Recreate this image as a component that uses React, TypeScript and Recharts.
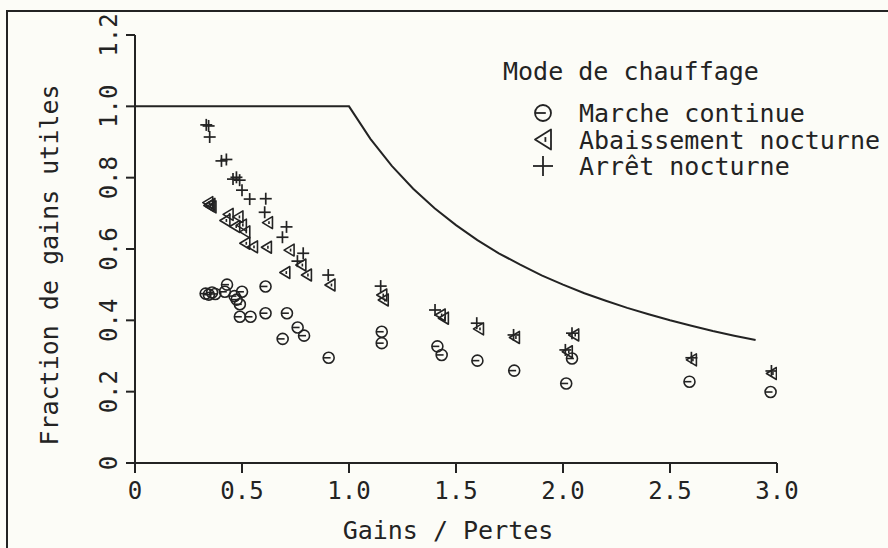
import React from 'react';
import { ScatterChart, Scatter, XAxis, YAxis, Legend, Label } from 'recharts';

const INK = '#232323';
const FONT = '"DejaVu Sans Mono", monospace';

const xTicks = [0, 0.5, 1, 1.5, 2, 2.5, 3];
const xTickLabels = ['0', '0.5', '1.0', '1.5', '2.0', '2.5', '3.0'];
const yTicks = [0, 0.2, 0.4, 0.6, 0.8, 1.0, 1.2];
const yTickLabels = ['0', '0.2', '0.4', '0.6', '0.8', '1.0', '1.2'];

const xTitle = 'Gains / Pertes';
const yTitle = 'Fraction de gains utiles';
const legendTitle = 'Mode de chauffage';
const seriesNames = ['Marche continue', 'Abaissement nocturne', 'Arrêt nocturne'];

// Marche continue
const marcheContinue: number[][] = [
  [0.33, 0.475], [0.345, 0.472], [0.36, 0.478], [0.375, 0.474],
  [0.42, 0.48], [0.43, 0.5], [0.465, 0.468], [0.475, 0.458],
  [0.5, 0.48], [0.49, 0.445], [0.49, 0.41], [0.54, 0.41],
  [0.61, 0.495], [0.61, 0.42], [0.71, 0.42], [0.69, 0.348],
  [0.76, 0.38], [0.79, 0.357], [0.905, 0.295], [1.153, 0.368],
  [1.153, 0.336], [1.413, 0.327], [1.433, 0.303], [1.6, 0.287],
  [1.772, 0.259], [2.042, 0.293], [2.015, 0.223], [2.591, 0.228],
  [2.97, 0.199],
];

// Abaissement nocturne
const abaissementNocturne: number[][] = [
  [0.34, 0.73], [0.35, 0.725], [0.355, 0.718], [0.345, 0.722],
  [0.42, 0.68], [0.435, 0.697], [0.466, 0.663], [0.481, 0.69],
  [0.497, 0.667], [0.513, 0.648], [0.513, 0.616], [0.549, 0.606],
  [0.619, 0.674], [0.614, 0.605], [0.72, 0.597], [0.7, 0.534],
  [0.775, 0.555], [0.801, 0.527], [0.911, 0.499], [1.153, 0.471],
  [1.16, 0.457], [1.426, 0.415], [1.441, 0.406], [1.605, 0.376],
  [1.773, 0.352], [2.05, 0.359], [2.02, 0.312], [2.6, 0.289],
  [2.974, 0.251],
];

// Arrêt nocturne
const arretNocturne: number[][] = [
  [0.333, 0.948], [0.344, 0.945], [0.349, 0.914], [0.404, 0.847],
  [0.427, 0.851], [0.458, 0.796], [0.474, 0.801], [0.489, 0.793],
  [0.5, 0.765], [0.536, 0.74], [0.611, 0.741], [0.606, 0.703],
  [0.708, 0.662], [0.689, 0.633], [0.786, 0.588], [0.759, 0.566],
  [0.903, 0.527], [1.148, 0.496], [1.402, 0.429], [1.597, 0.392],
  [1.769, 0.359], [2.042, 0.364], [2.011, 0.317], [2.6, 0.295],
  [2.974, 0.258],
];

// Limit curve (theoretical maximum)
const limitCurve: number[][] = [
  [0, 1], [1.0, 1], [1.1, 0.909], [1.2, 0.833], [1.3, 0.769], [1.4, 0.714],
  [1.5, 0.667], [1.6, 0.625], [1.7, 0.588], [1.8, 0.556], [1.9, 0.526],
  [2.0, 0.5], [2.1, 0.476], [2.2, 0.455], [2.3, 0.435], [2.4, 0.417],
  [2.5, 0.4], [2.6, 0.385], [2.7, 0.37], [2.8, 0.357], [2.9, 0.345],
];

const toObj = (arr: number[][]) => arr.map(([x, y]) => ({ x, y }));

const CircleMark = ({ cx, cy, r = 5.5, sw = 1.6 }: any) => (
  <g>
    <circle cx={cx} cy={cy} r={r} fill="none" stroke={INK} strokeWidth={sw} />
    <line x1={cx - r} y1={cy} x2={cx + r * 0.35} y2={cy} stroke={INK} strokeWidth={sw} />
  </g>
);

const TriMark = ({ cx, cy, w = 10, h = 12, sw = 1.6 }: any) => (
  <g>
    <polygon
      points={`${cx - w / 2},${cy} ${cx + w / 2},${cy - h / 2} ${cx + w / 2},${cy + h / 2}`}
      fill="none"
      stroke={INK}
      strokeWidth={sw}
      strokeLinejoin="round"
    />
    <line x1={cx + w * 0.15} y1={cy - h * 0.12} x2={cx + w * 0.15} y2={cy + h * 0.12} stroke={INK} strokeWidth={sw} />
  </g>
);

const PlusMark = ({ cx, cy, s = 6, sw = 1.7 }: any) => (
  <g>
    <line x1={cx - s} y1={cy} x2={cx + s} y2={cy} stroke={INK} strokeWidth={sw} />
    <line x1={cx} y1={cy - s} x2={cx} y2={cy + s} stroke={INK} strokeWidth={sw} />
  </g>
);

const NoShape = () => <g />;

const XTick = (p: any) => {
  const idx = xTicks.indexOf(p.payload.value);
  return (
    <text x={p.x} y={p.y} dy="0.71em" textAnchor="middle" fontSize={24} fontFamily={FONT} fill={INK}>
      {xTickLabels[idx]}
    </text>
  );
};

const YTick = (p: any) => {
  const idx = yTicks.indexOf(p.payload.value);
  return (
    <text
      x={p.x}
      y={p.y}
      transform={`rotate(-90 ${p.x} ${p.y})`}
      textAnchor="middle"
      fontSize={24}
      fontFamily={FONT}
      fill={INK}
    >
      {yTickLabels[idx]}
    </text>
  );
};

const LegendBox = () => {
  const markers = [
    (cx: number, cy: number) => <CircleMark cx={cx} cy={cy} r={8} sw={1.8} />,
    (cx: number, cy: number) => <TriMark cx={cx} cy={cy} w={16} h={20} sw={1.8} />,
    (cx: number, cy: number) => <PlusMark cx={cx} cy={cy} s={10} sw={1.8} />,
  ];
  return (
    <svg width={400} height={140} style={{ overflow: 'visible' }}>
      <text x={23} y={30} fontSize={25} fontFamily={FONT} fill={INK}>
        {legendTitle}
      </text>
      {seriesNames.map((n, i) => (
        <g key={n}>
          {markers[i](63, 63 + i * 26.5)}
          <text x={99} y={72 + i * 26.5} fontSize={25} fontFamily={FONT} fill={INK}>
            {n}
          </text>
        </g>
      ))}
    </svg>
  );
};

export default function App() {
  return (
    <div style={{ position: 'absolute', left: 0, top: 0, width: 888, height: 548, background: '#fcfcf7' }}>
      <div
        style={{
          position: 'absolute',
          left: 6,
          top: 10,
          width: 900,
          height: 560,
          borderTop: `2px solid ${INK}`,
          borderLeft: `2px solid ${INK}`,
        }}
      />
      <ScatterChart width={888} height={548} margin={{ top: 35, right: 111, bottom: 0, left: 0 }}>
        <XAxis
          type="number"
          dataKey="x"
          domain={[0, 3]}
          ticks={xTicks}
          height={85}
          tickSize={10}
          tickMargin={9}
          tick={<XTick />}
          axisLine={{ stroke: INK, strokeWidth: 2 }}
          tickLine={{ stroke: INK, strokeWidth: 2 }}
          allowDataOverflow
        >
          <Label
            content={() => (
              <text x={448} y={539} textAnchor="middle" fontSize={25} fontFamily={FONT} fill={INK}>
                {xTitle}
              </text>
            )}
          />
        </XAxis>
        <YAxis
          type="number"
          dataKey="y"
          domain={[0, 1.2]}
          ticks={yTicks}
          width={135}
          tickSize={9}
          tickMargin={9}
          tick={<YTick />}
          axisLine={{ stroke: INK, strokeWidth: 2 }}
          tickLine={{ stroke: INK, strokeWidth: 2 }}
          allowDataOverflow
        >
          <Label
            content={() => (
              <text
                x={58}
                y={265}
                transform="rotate(-90 58 265)"
                textAnchor="middle"
                fontSize={25}
                fontFamily={FONT}
                fill={INK}
              >
                {yTitle}
              </text>
            )}
          />
        </YAxis>
        <Legend
          layout="vertical"
          align="center"
          verticalAlign="middle"
          content={<LegendBox />}
          wrapperStyle={{ position: 'absolute', left: 480, top: 50, width: 400, height: 140 }}
        />
        <Scatter
          name="Limite"
          data={toObj(limitCurve)}
          line={{ stroke: INK, strokeWidth: 2 }}
          shape={<NoShape />}
          legendType="none"
          isAnimationActive={false}
        />
        <Scatter
          name={seriesNames[0]}
          data={toObj(marcheContinue)}
          shape={(p: any) => <CircleMark cx={p.cx} cy={p.cy} />}
          isAnimationActive={false}
        />
        <Scatter
          name={seriesNames[1]}
          data={toObj(abaissementNocturne)}
          shape={(p: any) => <TriMark cx={p.cx} cy={p.cy} />}
          isAnimationActive={false}
        />
        <Scatter
          name={seriesNames[2]}
          data={toObj(arretNocturne)}
          shape={(p: any) => <PlusMark cx={p.cx} cy={p.cy} />}
          isAnimationActive={false}
        />
      </ScatterChart>
    </div>
  );
}
